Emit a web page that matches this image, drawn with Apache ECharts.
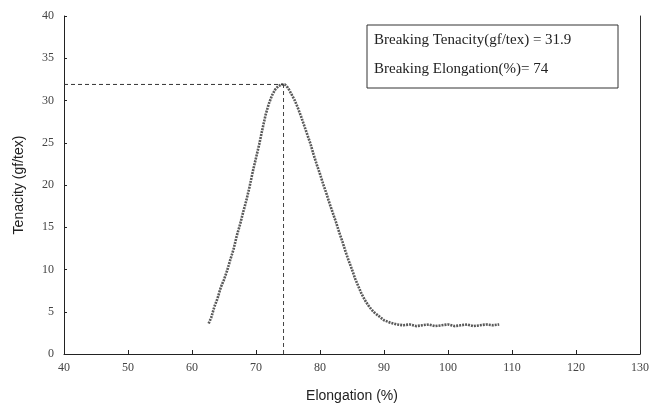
<!DOCTYPE html>
<html><head><meta charset="utf-8">
<script src="https://cdn.jsdelivr.net/npm/echarts@6/dist/echarts.min.js"></script>
<style>html,body{margin:0;padding:0;background:#fff}#c{width:652px;height:410px}</style>
</head><body><div id="c"></div>
<script>
var elongation = [62.6,63.0,63.5,64.0,64.5,65.0,65.5,66.0,66.5,67.0,67.5,68.0,68.5,69.0,69.5,70.0,70.5,71.0,71.5,72.0,72.5,73.0,73.5,74.0,74.5,75.0,75.5,76.0,76.5,77.0,77.5,78.0,78.5,79.0,79.5,80.0,80.5,81.0,81.5,82.0,82.5,83.0,83.5,84.0,84.5,85.0,85.5,86.0,86.5,87.0,87.5,88.0,88.5,89.0,89.5,90.0,91,92,93,94,95,96,97,98,99,100,101,102,103,104,105,106,107,108];
var tenacity = [3.6,4.3,5.6,6.6,7.9,8.8,9.9,11.2,12.4,14.0,15.3,16.8,18.2,19.8,21.6,23.2,24.8,26.6,28.3,29.6,30.6,31.3,31.7,31.9,31.9,31.5,30.8,30.1,29.2,28.2,27.1,26.0,24.9,23.6,22.4,21.3,20.1,19.0,17.8,16.7,15.6,14.4,13.3,12.1,11.0,10.0,8.9,8.0,7.1,6.4,5.8,5.3,4.9,4.6,4.3,4.0,3.7,3.5,3.4,3.5,3.3,3.4,3.5,3.3,3.4,3.5,3.3,3.4,3.5,3.3,3.4,3.5,3.4,3.5];
var breakTenacity = 31.9;
var breakElongation = 74.3;
var xTicks = [40,50,60,70,80,90,100,110,120,130];
var yTicks = [0,5,10,15,20,25,30,35,40];
var boxLines = ['Breaking Tenacity(gf/tex) = 31.9', 'Breaking Elongation(%)= 74'];

var chart = echarts.init(document.getElementById('c'));
var curve = elongation.map(function(x,i){return [x, tenacity[i]];});
var serif = 'Liberation Serif';
chart.setOption({
  animation:false,
  grid:{left:64,right:12,top:16,bottom:56},
  xAxis:[{type:'value',min:40,max:130,interval:10,
    name:'Elongation (%)',nameLocation:'middle',nameGap:35,
    nameTextStyle:{fontFamily:'Liberation Sans',fontSize:14,color:'#222'},
    axisLine:{lineStyle:{color:'#222',width:1}},
    axisTick:{inside:true,length:4,lineStyle:{color:'#222'}},
    axisLabel:{fontFamily:serif,fontSize:12,color:'#444',margin:8},
    splitLine:{show:false}}],
  yAxis:[{type:'value',min:0,max:40,interval:5,
    name:'Tenacity (gf/tex)',nameLocation:'middle',nameGap:38,
    nameTextStyle:{fontFamily:'Liberation Sans',fontSize:14,color:'#222'},
    axisLine:{show:true,lineStyle:{color:'#222',width:1}},
    axisTick:{show:true,inside:true,length:3,lineStyle:{color:'#222'}},
    axisLabel:{fontFamily:serif,fontSize:12,color:'#444',margin:10},
    splitLine:{show:false}},
   {type:'value',min:0,max:40,interval:5,position:'right',
    axisLine:{show:true,lineStyle:{color:'#333',width:1}},
    axisTick:{show:false},axisLabel:{show:false},splitLine:{show:false}}],
  series:[
    {type:'line',data:curve,symbol:'none',smooth:false,
     lineStyle:{color:'#5a5a5a',width:2.6,type:[2,1]}},
    {type:'line',data:[[40,breakTenacity],[breakElongation,breakTenacity]],symbol:'none',
     lineStyle:{color:'#333',width:1,type:[4,3]}},
    {type:'line',data:[[breakElongation,0],[breakElongation,breakTenacity]],symbol:'none',
     lineStyle:{color:'#444',width:1,type:[4,3]}}
  ],
  graphic:[
    {type:'rect',shape:{x:367,y:25,width:251,height:63},style:{fill:'#fff',stroke:'#333',lineWidth:1}},
    {type:'text',x:374,y:33,style:{text:boxLines[0],font:'15px "Liberation Serif"',fill:'#222'}},
    {type:'text',x:374,y:62,style:{text:boxLines[1],font:'15px "Liberation Serif"',fill:'#222'}}
  ]
});
</script></body></html>
